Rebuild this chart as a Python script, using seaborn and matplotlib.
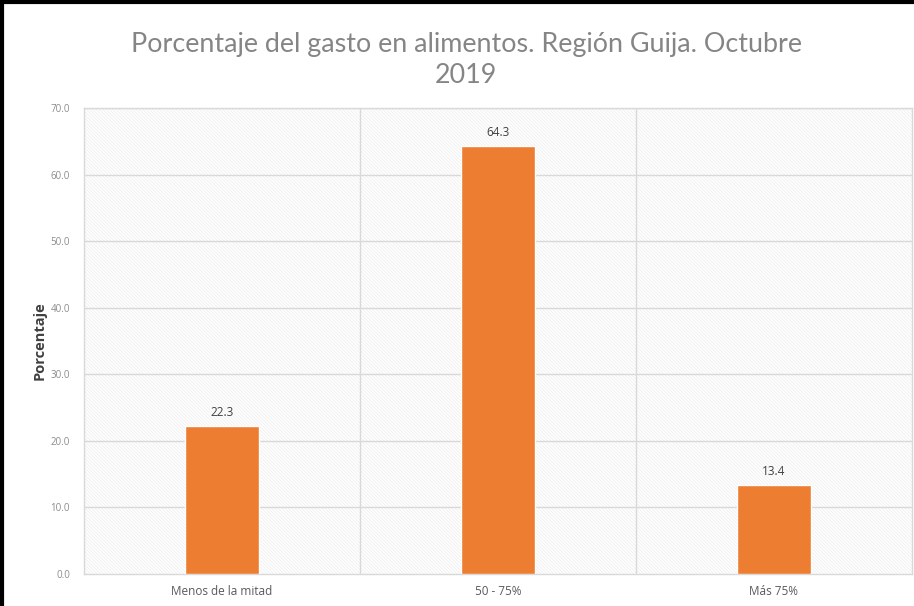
import matplotlib
matplotlib.use("Agg")
import matplotlib.pyplot as plt
import seaborn as sns
import pandas as pd
from matplotlib.lines import Line2D

# datos
categorias = ["Menos de la mitad", "50 - 75%", "Más 75%"]
porcentajes = [22.3, 64.3, 13.4]

df = pd.DataFrame({"categoria": categorias, "porcentaje": porcentajes})

sns.set_style("white")
plt.rcParams["font.family"] = ["Open Sans", "DejaVu Sans"]
plt.rcParams["hatch.color"] = "#ececec"
plt.rcParams["hatch.linewidth"] = 0.5

fig = plt.figure(figsize=(9.14, 6.06), dpi=100)
ax = fig.add_axes([0.0919, 0.0528, 0.9059, 0.769])

# fondo rayado
ax.patch.set_facecolor("white")
ax.patch.set_hatch("\\\\\\\\\\\\\\\\\\\\")
ax.patch.set_edgecolor("#ececec")

sns.barplot(x="categoria", y="porcentaje", data=df, color="#ED7D31",
            width=0.27, saturation=1, ax=ax, zorder=3)

ax.set_ylim(0, 70)
ax.set_xlim(-0.5, 2.5)
ax.set_yticks(range(0, 71, 10))
ax.set_yticklabels([f"{v:.1f}" for v in range(0, 71, 10)])

# cuadricula
for y in range(10, 71, 10):
    ax.axhline(y, color="#d9d9d9", lw=1, zorder=1)
for x in [0.5, 1.5]:
    ax.axvline(x, color="#d9d9d9", lw=1, zorder=1)

for s in ax.spines.values():
    s.set_color("#d9d9d9")
    s.set_linewidth(1)

ax.tick_params(axis="y", labelsize=7, colors="#8c8c8c", length=0, pad=10)
ax.tick_params(axis="x", labelsize=8.5, colors="#595959", length=0, pad=8)

ax.bar_label(ax.containers[0], fmt="%.1f", padding=5, fontsize=8.5, color="#404040")

ax.set_xlabel("")
ax.set_ylabel("Porcentaje", fontsize=10.5, fontweight="bold", color="#404040", labelpad=3)

fig.suptitle("Porcentaje del gasto en alimentos. Región Guija. Octubre\n2019",
             x=0.510, y=0.948, fontsize=19.4, color="#858585",
             family=["Lato", "DejaVu Sans"], fontweight="normal", linespacing=1.33)

# borde negro superior e izquierdo
fig.add_artist(Line2D([0.002, 0.002], [0, 1], color="black", lw=3, transform=fig.transFigure))
fig.add_artist(Line2D([0, 1], [0.997, 0.997], color="black", lw=3, transform=fig.transFigure))

fig.savefig("out.png", dpi=100)
